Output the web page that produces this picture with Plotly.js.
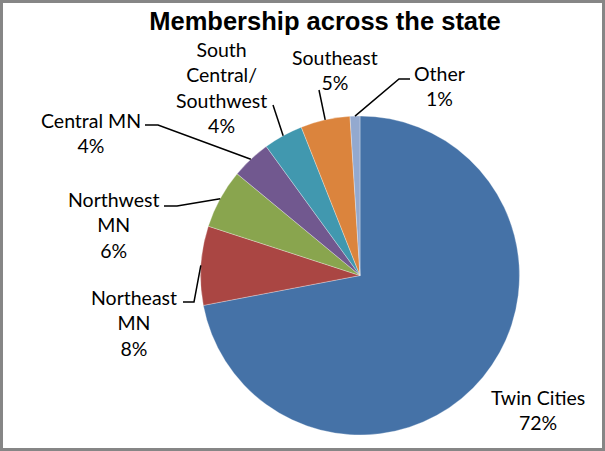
<!DOCTYPE html>
<html>
<head>
<meta charset="utf-8">
<script src="https://cdn.plot.ly/plotly-3.0.1.min.js"></script>
<style>html,body{margin:0;padding:0;background:#fff;}#chart{width:605px;height:451px;}</style>
</head>
<body>
<div id="chart"></div>
<script>
// ---- data ----
const regions = ["Twin Cities", "Northeast MN", "Northwest MN", "Central MN", "South Central/ Southwest", "Southeast", "Other"];
const labelText = ["Twin Cities", "Northeast<br>MN", "Northwest<br>MN", "Central MN", "South<br>Central/<br>Southwest", "Southeast", "Other"];
const shares = [72, 8, 6, 4, 4, 5, 1];
const sliceColors = ["#4572A7", "#AA4643", "#89A54E", "#71588F", "#4198AF", "#DB843D", "#93A9CF"];

// ---- layout (pixels) ----
const W = 605, H = 451;
const CX = 360, CY = 275.5, R = 159.5;
// label centre and leader-line bends (pixel positions, layout only)
const labelPos = [
  {x: 538, y: 409.5, bend: []},
  {x: 134, y: 322.5, bend: [[194, 302], [183, 302]]},
  {x: 113, y: 225, bend: [[177, 206], [164, 206]]},
  {x: 91, y: 133, bend: [[158, 125], [145, 125]]},
  {x: 221, y: 88, bend: [[273, 105]]},
  {x: 335, y: 70.5, bend: [[319, 90]]},
  {x: 439, y: 86.5, bend: [[399, 79], [410, 79]]}
];

const px = x => x / W;
const py = y => 1 - y / H;

const total = shares.reduce((a, b) => a + b, 0);
let cum = 0;
const annotations = [];
const shapes = [];
shares.forEach((v, i) => {
  const pct = Math.round(v / total * 100) + "%";
  const mid = 2 * Math.PI * (cum + v / 2) / total;
  cum += v;
  const ax = CX + R * Math.sin(mid), ay = CY - R * Math.cos(mid);
  const lp = labelPos[i];
  annotations.push({
    xref: "paper", yref: "paper", x: px(lp.x), y: py(lp.y),
    xanchor: "center", yanchor: "middle", showarrow: false, align: "center",
    text: labelText[i] + "<br>" + pct,
    font: {family: "Lato, 'Open Sans', sans-serif", size: 19.5, color: "#000"}
  });
  if (lp.bend.length) {
    let d = "M" + px(ax) + "," + py(ay);
    lp.bend.forEach(p => { d += " L" + px(p[0]) + "," + py(p[1]); });
    shapes.push({type: "path", xref: "paper", yref: "paper", path: d,
      line: {color: "#000", width: 1.5}});
  }
});

shapes.push({type: "rect", xref: "paper", yref: "paper",
  x0: px(1.5), x1: px(W - 1.5), y0: py(H - 1.5), y1: py(1.5),
  line: {color: "#868686", width: 3}, fillcolor: "rgba(0,0,0,0)"});

const trace = {
  type: "pie",
  labels: regions,
  values: shares,
  sort: false,
  direction: "clockwise",
  rotation: 0,
  textinfo: "none",
  hoverinfo: "label+percent",
  marker: {colors: sliceColors, line: {color: "rgba(255,255,255,0.6)", width: 0.5}},
  domain: {x: [px(CX - R), px(CX + R)], y: [py(CY + R), py(CY - R)]},
  showlegend: false
};

const layout = {
  width: W, height: H,
  margin: {l: 0, r: 0, t: 0, b: 0},
  paper_bgcolor: "#fff",
  plot_bgcolor: "#fff",
  title: {
    text: "<b>Membership across the state</b>",
    x: px(325), xanchor: "center",
    y: py(21), yanchor: "middle",
    font: {family: "'Liberation Sans', Arial, sans-serif", size: 25.5, color: "#000"}
  },
  annotations: annotations,
  shapes: shapes,
  showlegend: false
};

Plotly.newPlot("chart", [trace], layout, {displayModeBar: false, staticPlot: true});
</script>
</body>
</html>
